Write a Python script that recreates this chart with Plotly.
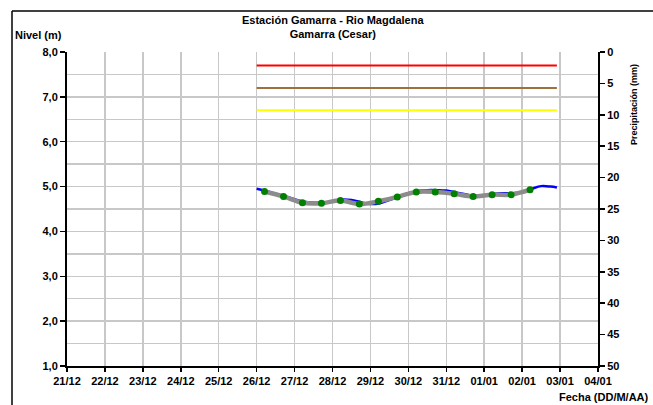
import plotly.graph_objects as go

# ---------------- data ----------------
level_times = [
    "2023-12-26 00:00", "2023-12-26 06:00", "2023-12-26 12:00", "2023-12-26 18:00",
    "2023-12-27 00:00", "2023-12-27 06:00", "2023-12-27 12:00", "2023-12-27 18:00",
    "2023-12-28 00:00", "2023-12-28 06:00", "2023-12-28 12:00", "2023-12-28 18:00",
    "2023-12-29 00:00", "2023-12-29 06:00", "2023-12-29 12:00", "2023-12-29 18:00",
    "2023-12-30 00:00", "2023-12-30 06:00", "2023-12-30 12:00", "2023-12-30 18:00",
    "2023-12-31 00:00", "2023-12-31 06:00", "2023-12-31 12:00", "2023-12-31 18:00",
    "2024-01-01 00:00", "2024-01-01 06:00", "2024-01-01 12:00", "2024-01-01 18:00",
    "2024-01-02 00:00", "2024-01-02 06:00", "2024-01-02 12:00", "2024-01-02 18:00",
    "2024-01-02 22:00",
]
level_values = [
    4.95, 4.90, 4.84, 4.78,
    4.72, 4.66, 4.64, 4.64,
    4.67, 4.71, 4.70, 4.65,
    4.61, 4.63, 4.70, 4.78,
    4.85, 4.90, 4.92, 4.92,
    4.91, 4.87, 4.83, 4.79,
    4.80, 4.84, 4.85, 4.85,
    4.88, 4.95, 5.01, 5.00,
    4.98,
]

obs_times = [
    "2023-12-26 05:00", "2023-12-26 17:00", "2023-12-27 05:00", "2023-12-27 17:00",
    "2023-12-28 05:00", "2023-12-28 17:00", "2023-12-29 05:00", "2023-12-29 17:00",
    "2023-12-30 05:00", "2023-12-30 17:00", "2023-12-31 05:00", "2023-12-31 17:00",
    "2024-01-01 05:00", "2024-01-01 17:00", "2024-01-02 05:00",
]
obs_values = [4.89, 4.78, 4.64, 4.63, 4.69, 4.61, 4.67, 4.77,
              4.88, 4.88, 4.84, 4.78, 4.82, 4.82, 4.93]

threshold_times = ["2023-12-26 00:00", "2024-01-02 22:00"]
threshold_red = [7.7, 7.7]
threshold_brown = [7.2, 7.2]
threshold_yellow = [6.7, 6.7]

x_range = ["2023-12-21 00:00", "2024-01-04 00:00"]
y_range = [1.0, 8.0]
precip_range = [50, 0]

title_text = "Estación Gamarra - Rio Magdalena<br>Gamarra (Cesar)"
y_title = "Nivel (m)"
x_title = "Fecha (DD/M/AA)"
y2_title = "Precipitación (mm)"

# ---------------- figure ----------------
FONT = "Arial, Liberation Sans, sans-serif"
W, H = 653, 405
ML, MR, MT, MB = 67, 55, 52, 39
PW = W - ML - MR
PH = H - MT - MB


def px_x(p):
    return (p - ML) / PW


def px_y(p):
    return (H - MB - p) / PH


fig = go.Figure()

for vals, col in [(threshold_red, "#FF0000"), (threshold_brown, "#A0703C"),
                  (threshold_yellow, "#FFFF00")]:
    fig.add_trace(go.Scatter(x=threshold_times, y=vals, mode="lines",
                             line=dict(color=col, width=2), hoverinfo="skip",
                             showlegend=False))

fig.add_trace(go.Scatter(x=level_times, y=level_values, mode="lines",
                         line=dict(color="#0000FF", width=2.5, shape="spline"),
                         showlegend=False))
fig.add_trace(go.Scatter(x=obs_times, y=obs_values, mode="lines",
                         line=dict(color="#8C8C8C", width=4.5, shape="spline"),
                         showlegend=False))
fig.add_trace(go.Scatter(x=obs_times, y=obs_values, mode="markers",
                         marker=dict(color="#008000", size=7),
                         showlegend=False))
# invisible trace to activate the precipitation axis
fig.add_trace(go.Scatter(x=[x_range[0]], y=[None], yaxis="y2", mode="markers",
                         showlegend=False, hoverinfo="skip"))

tickfont = dict(family=FONT, size=11, color="black", weight="bold")

fig.update_layout(
    width=W, height=H,
    margin=dict(l=ML, r=MR, t=MT, b=MB),
    paper_bgcolor="white", plot_bgcolor="white",
    separators=",.",
    font=dict(family=FONT, color="black"),
    xaxis=dict(
        type="date", range=x_range, dtick=86400000, tick0="2023-12-21",
        tickformat="%d/%m", tickfont=tickfont,
        showgrid=True, gridcolor="#C8C8C8", gridwidth=1.5,
        showline=True, linecolor="black", linewidth=2,
        ticks="outside", ticklen=4, tickcolor="black", tickwidth=1.5,
        zeroline=False, fixedrange=True,
    ),
    yaxis=dict(
        range=y_range, dtick=1, tick0=1, tickformat=".1f", tickfont=tickfont,
        showgrid=True, gridcolor="#C8C8C8", gridwidth=1.5,
        minor=dict(dtick=0.5, showgrid=True, gridcolor="#C8C8C8", gridwidth=1.5),
        showline=True, linecolor="black", linewidth=2,
        ticks="outside", ticklen=5, tickcolor="black", tickwidth=1.5,
        zeroline=False, fixedrange=True,
    ),
    yaxis2=dict(
        overlaying="y", side="right", range=precip_range, dtick=5, tick0=0,
        tickfont=tickfont, showgrid=False,
        showline=True, linecolor="black", linewidth=2,
        ticks="outside", ticklen=5, tickcolor="black", tickwidth=1.5,
        zeroline=False, fixedrange=True,
    ),
    annotations=[
        dict(text="<b>" + title_text + "</b>", xref="paper", yref="paper",
             x=0.5, y=px_y(27), xanchor="center", yanchor="middle",
             showarrow=False, font=dict(family=FONT, size=11, color="black")),
        dict(text="<b>" + y_title + "</b>", xref="paper", yref="paper",
             x=px_x(13), y=px_y(35), xanchor="left", yanchor="middle",
             showarrow=False, font=dict(family=FONT, size=11, color="black")),
        dict(text="<b>" + x_title + "</b>", xref="paper", yref="paper",
             x=px_x(651), y=px_y(397), xanchor="right", yanchor="middle",
             showarrow=False, font=dict(family=FONT, size=11, color="black")),
        dict(text="<b>" + y2_title + "</b>", xref="paper", yref="paper",
             x=px_x(634), y=px_y(105), xanchor="center", yanchor="middle",
             textangle=-90, showarrow=False,
             font=dict(family=FONT, size=9, color="black")),
    ],
    shapes=[
        dict(type="line", xref="paper", yref="paper",
             x0=px_x(12), x1=px_x(12), y0=px_y(H), y1=px_y(11),
             line=dict(color="black", width=1.5), layer="above"),
        dict(type="line", xref="paper", yref="paper",
             x0=px_x(12), x1=px_x(W), y0=px_y(11), y1=px_y(11),
             line=dict(color="black", width=1.5), layer="above"),
    ],
)

fig.write_html(
    "out.html",
    config={"displayModeBar": False, "staticPlot": True},
    post_script="document.body.style.margin='0px';document.body.style.overflow='hidden';",
)
